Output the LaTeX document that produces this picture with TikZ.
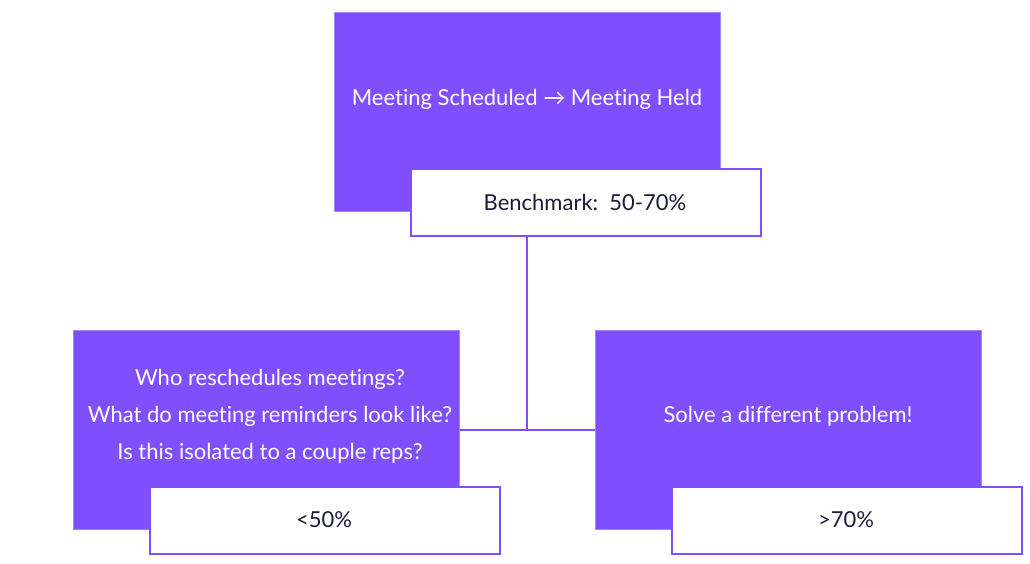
\documentclass[tikz,border=0pt]{standalone}
\usepackage{fontspec}
\setmainfont{Lato}[Ligatures=NoCommon]
\definecolor{vio}{HTML}{7F4FFD}
\definecolor{ink}{HTML}{1B1B3A}
\tikzset{
  pbox/.style={rectangle, fill=vio, draw=vio!70!white, line width=0.6pt, minimum width=386pt, minimum height=199pt, anchor=north west, inner sep=0pt},
  wbox/.style={rectangle, fill=white, draw=vio, line width=2pt, minimum width=350pt, minimum height=67pt, anchor=north west, inner sep=0pt},
  ptxt/.style={text=white, align=center, font=\fontsize{22}{37}\selectfont},
  wtxt/.style={text=ink, font=\fontsize{22}{26}\selectfont},
  link/.style={draw=vio, line width=2pt}
}
\begin{document}
\begin{tikzpicture}[x=1pt,y=-1pt]
\useasboundingbox (0,0) rectangle (1030,563);
\node[pbox] (top) at (334,12) {};
\node[ptxt] (toptxt) at (527,99) {Meeting Scheduled → Meeting Held};
\node[wbox] (bench) at (410,168) {};
\node[wtxt] (benchtxt) at (585,202) {Benchmark:\ \ 50-70\%};
\node[pbox] (left) at (73,330) {};
\node[ptxt] (lefttxt) at (270,416) {Who reschedules meetings?\\What do meeting reminders look like?\\Is this isolated to a couple reps?};
\node[wbox] (lw) at (149,486) {};
\node[wtxt] (lwtxt) at (324,520) {<50\%};
\node[pbox] (right) at (595,330) {};
\node[ptxt] (righttxt) at (788,416) {Solve a different problem!};
\node[wbox] (rw) at (671,486) {};
\node[wtxt] (rwtxt) at (846,520) {>70\%};
\coordinate (up) at (top.south |- bench.south);
\coordinate (mid) at (top.south |- 0,430);
\draw[link] (up) -- (mid);
\draw[link] (left.east |- mid) -- (right.west |- mid);
\end{tikzpicture}
\end{document}
